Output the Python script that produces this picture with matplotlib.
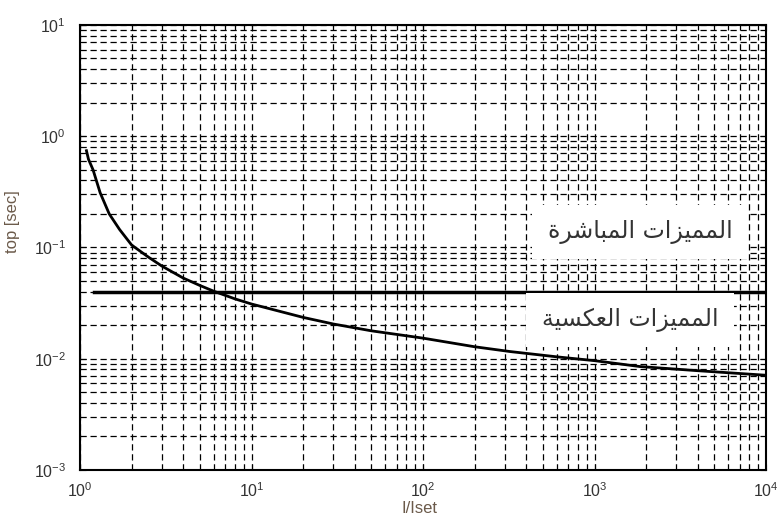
import numpy as np
import matplotlib
matplotlib.use('Agg')
import matplotlib.pyplot as plt

plt.rcParams['font.family'] = ['Liberation Sans', 'DejaVu Sans']
plt.rcParams['mathtext.fontset'] = 'custom'
plt.rcParams['mathtext.rm'] = 'Liberation Sans'

# curve (I/Iset, seconds)
ratio = [1.09, 1.12, 1.19, 1.31, 1.48, 1.7, 2, 2.5, 3, 4, 5, 6, 8, 10,
         20, 30, 50, 100, 200, 321, 600, 1000, 1840, 4000, 10000]
t_op = [0.74, 0.62, 0.50, 0.31, 0.20, 0.145, 0.105, 0.082, 0.068, 0.053, 0.0455,
        0.0405, 0.0345, 0.031, 0.0235, 0.0205, 0.0178, 0.0153, 0.0128, 0.0116,
        0.0104, 0.0096, 0.0085, 0.0078, 0.0071]

# horizontal setting line
flat_x = [1.2, 10000]
flat_t = [0.04, 0.04]

# Arabic labels, written in presentation forms (visual order) so they join
# logical: "المميزات المباشرة" and "المميزات العكسية"
label_direct = ('\uFE93\uFEAE\uFEB7\uFE8E\uFE92\uFEE4\uFEDF\uFE8D' + ' ' +
                '\uFE95\uFE8D\uFEB0\uFEF4\uFEE4\uFEE4\uFEDF\uFE8D')
label_inverse = ('\uFE94\uFEF4\uFEB4\uFEDC\uFECC\uFEDF\uFE8D' + ' ' +
                 '\uFE95\uFE8D\uFEB0\uFEF4\uFEE4\uFEE4\uFEDF\uFE8D')

fig = plt.figure(figsize=(7.77, 5.18), dpi=100)
ax = fig.add_axes([0.103, 0.0927, 0.883, 0.8593])

ax.plot(ratio, t_op, color='black', lw=2)
ax.plot(flat_x, flat_t, color='black', lw=2.5)

ax.set_xscale('log')
ax.set_yscale('log')
ax.set_xlim(1, 1e4)
ax.set_ylim(1e-3, 1e1)

ax.grid(True, which='both', color='black', linestyle=(0, (5, 3)), lw=0.9)
ax.set_axisbelow(True)
ax.tick_params(which='both', direction='in', top=True, right=True, colors='black',
               labelcolor='#333333', labelsize=11.5)
ax.tick_params(axis='y', which='major', pad=10)
ax.tick_params(axis='x', which='major', pad=8)
ax.tick_params(which='major', length=4)
ax.tick_params(which='minor', length=2)
for s in ax.spines.values():
    s.set_linewidth(1.5)

ax.set_xlabel('I/Iset', color='#6b5a4a', fontsize=12)
ax.set_ylabel('top [sec]', color='#6b5a4a', fontsize=12)
ax.xaxis.set_label_coords(0.495, -0.07)
ax.yaxis.set_label_coords(-0.088, 0.557)

ax.text(1842, 0.138, label_direct, family='DejaVu Sans', fontsize=17,
        ha='center', va='center', color='#333333',
        bbox=dict(facecolor='white', edgecolor='none', pad=11))
ax.text(1610, 0.0223, label_inverse, family='DejaVu Sans', fontsize=17,
        ha='center', va='center', color='#333333',
        bbox=dict(facecolor='white', edgecolor='none', pad=11))

fig.savefig('out.png', dpi=100)
